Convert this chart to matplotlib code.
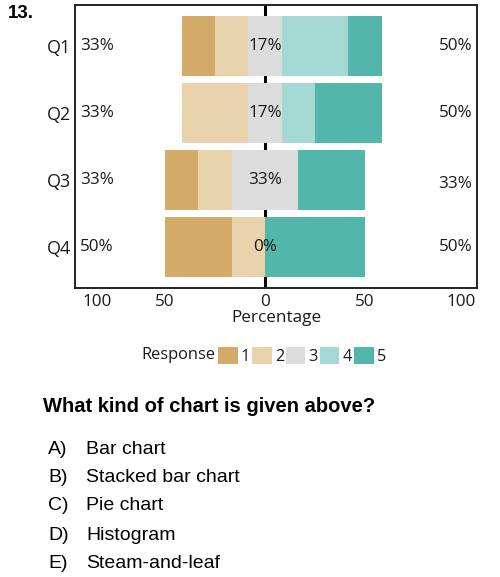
import matplotlib
matplotlib.use("Agg")
import matplotlib.pyplot as plt
import numpy as np
from matplotlib.transforms import blended_transform_factory

# ---- data ----
questions = ["Q1", "Q2", "Q3", "Q4"]
responses = ["1", "2", "3", "4", "5"]
# percentage of answers per response level (1..5)
pct_1 = [16.7, 0.0, 16.7, 33.3]
pct_2 = [16.7, 33.3, 16.7, 16.7]
pct_3 = [16.7, 16.7, 33.3, 0.0]
pct_4 = [33.3, 16.7, 0.0, 0.0]
pct_5 = [16.7, 33.3, 33.3, 50.0]
left_labels = ["33%", "33%", "33%", "50%"]
mid_labels = ["17%", "17%", "33%", "0%"]
right_labels = ["50%", "50%", "33%", "50%"]
tick_labels = ["100", "50", "0", "50", "100"]
colors = ["#D4AA68", "#E9D3AC", "#DCDCDC", "#A4D9D3", "#53B6AB"]

question_no = "13."
question = "What kind of chart is given above?"
option_letters = ["A)", "B)", "C)", "D)", "E)"]
option_texts = ["Bar chart", "Stacked bar chart", "Pie chart", "Histogram", "Steam-and-leaf"]

W, H = 500, 577
fig = plt.figure(figsize=(W / 100, H / 100), dpi=100)
fig.patch.set_facecolor("white")

def px(x, y):
    return x / W, 1 - y / H

ax = fig.add_axes([75 / W, 1 - 288 / H, (477 - 75) / W, (288 - 5) / H])
chart_font = "Open Sans"
fs = 12.3
tc = "#1a1a1a"

vals = np.array([pct_1, pct_2, pct_3, pct_4, pct_5])
ypos = np.arange(len(questions))
start = -(vals[0] + vals[1] + vals[2] / 2)
ax.axvline(0, color="black", lw=2.2, zorder=0)
bars = []
cum = start.copy()
for i in range(5):
    b = ax.barh(ypos, vals[i], left=cum, height=0.9, color=colors[i], zorder=2, linewidth=0)
    bars.append(b)
    cum = cum + vals[i]

ax.set_xlim(-95, 106)
ax.set_ylim(3.61, -0.61)

trans = blended_transform_factory(ax.transAxes, ax.transData)
for i in range(len(questions)):
    ax.text(0.012, ypos[i], left_labels[i], transform=trans, ha="left", va="center",
            fontsize=fs, family=chart_font, color=tc, zorder=3)
    ax.text(0, ypos[i], mid_labels[i], ha="center", va="center",
            fontsize=fs, family=chart_font, color=tc, zorder=3)
    dy = 0.06 if right_labels[i] == "33%" else 0.0
    ax.text(0.988, ypos[i] + dy, right_labels[i], transform=trans, ha="right", va="center",
            fontsize=fs, family=chart_font, color=tc, zorder=3)

ax.set_yticks(ypos)
ax.set_yticklabels(questions, fontsize=fs + 0.7, family=chart_font, color=tc)
ax.set_xticks([-84, -50, 0, 50, 98])
ax.set_xticklabels(tick_labels, fontsize=fs, family=chart_font, color=tc)
ax.tick_params(length=0, pad=3)
ax.tick_params(axis="x", pad=4)
ax.set_xlabel("Percentage", fontsize=fs, family=chart_font, color=tc, labelpad=0)
for s in ax.spines.values():
    s.set_linewidth(1.4)
    s.set_color("#222222")

# legend
fig.text(*px(141, 355), "Response", ha="left", va="center", fontsize=fs - 0.5,
         family=chart_font, color=tc)
handles = [b[0] for b in bars]
leg = fig.legend(handles, responses, ncol=5, loc="center left",
                 bbox_to_anchor=px(218, 356), frameon=False,
                 prop={"family": chart_font, "size": fs - 0.5},
                 handlelength=1.2, handleheight=1.2, handletextpad=0.2,
                 columnspacing=0.1, borderpad=0, borderaxespad=0)
for t in leg.get_texts():
    t.set_color(tc)

# question text
fig.text(*px(8, 14), question_no, ha="left", va="center", fontsize=13.5,
         fontweight="bold", family="Liberation Sans")
fig.text(*px(43, 407), question, ha="left", va="center", fontsize=14.5,
         fontweight="bold", family="Liberation Sans")
ys = [449, 478, 506, 535, 564]
for y, l, t in zip(ys, option_letters, option_texts):
    fig.text(*px(48, y), l, ha="left", va="center", fontsize=14, family="Liberation Sans")
    fig.text(*px(86, y), t, ha="left", va="center", fontsize=14, family="Liberation Sans")

fig.savefig("out.png", dpi=100)
